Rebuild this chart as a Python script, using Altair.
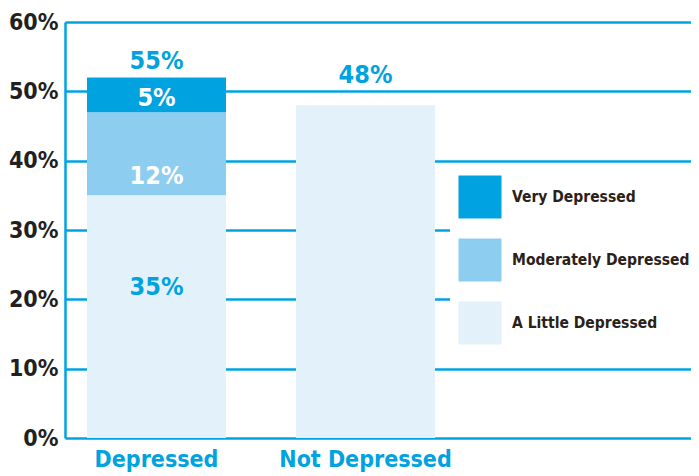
import altair as alt
import pandas as pd

groups = ["Depressed", "Not Depressed"]
spacer = " "   # empty slot on the right where the legend sits
levels = ["Very Depressed", "Moderately Depressed", "A Little Depressed"]
level_colors = ["#00a3e0", "#8dcdf0", "#e3f2fa"]
depressed_values = [5, 12, 35]          # Very, Moderately, A Little
not_depressed_value = 48
total_labels = ["55%", "48%"]
y_ticks = [0, 10, 20, 30, 40, 50, 60]

FONT = "Liberation Sans Narrow, Arial Narrow, DejaVu Sans Condensed, sans-serif"
BLUE = "#00a3e0"

rows = []
cum = 0
for order, (lvl, val) in enumerate(zip(reversed(levels), reversed(depressed_values))):
    rows.append({"group": groups[0], "level": lvl, "value": val, "order": order,
                 "mid": cum + val / 2, "label": f"{val}%"})
    cum += val
stack_df = pd.DataFrame(rows)
nd_df = pd.DataFrame({"group": [groups[1]], "value": [not_depressed_value]})
tot_df = pd.DataFrame({"group": groups, "top": [cum, not_depressed_value], "label": total_labels})

x_enc = alt.X("group:N",
              scale=alt.Scale(domain=groups + [spacer], paddingInner=0.335, paddingOuter=0.165, align=0.319),
              axis=alt.Axis(title=None, labelAngle=0, domain=False, ticks=False, labelColor=BLUE,
                            labelFont=FONT, labelFontSize=23, labelFontWeight="bold", labelPadding=10,
                            labelLimit=300))
y_scale = alt.Scale(domain=[0, 60], nice=False)
y_axis = alt.Axis(title=None, values=y_ticks, labelExpr="datum.value + '%'", domain=True, domainColor=BLUE,
                  domainWidth=2.5, grid=True, gridColor=BLUE, gridWidth=2.5, ticks=False,
                  labelFont=FONT, labelFontSize=23, labelFontWeight="bold", labelColor="#231f20", labelPadding=7)

stacked = alt.Chart(stack_df).mark_bar().encode(
    x=x_enc,
    y=alt.Y("value:Q", stack="zero", scale=y_scale, axis=y_axis),
    color=alt.Color("level:N", scale=alt.Scale(domain=levels, range=level_colors),
                    legend=alt.Legend(title=None, orient="none", legendX=385, legendY=145,
                                      fillColor="white", padding=8, symbolType="square", symbolSize=1850,
                                      symbolStrokeWidth=0, symbolOpacity=1, rowPadding=19, labelOffset=10,
                                      labelFont=FONT, labelFontSize=15.5, labelFontWeight="bold",
                                      labelColor="#2b2116", labelLimit=300)),
    order=alt.Order("order:Q", sort="ascending"),
)

nd_bar = alt.Chart(nd_df).mark_bar(color="#e3f2fa").encode(x="group:N", y="value:Q")

def seg_label(level, color, dy):
    return alt.Chart(stack_df).transform_filter(alt.datum.level == level).mark_text(
        font=FONT, fontSize=25, fontWeight="bold", color=color, baseline="middle", dy=dy
    ).encode(x="group:N", y="mid:Q", text="label:N")

def top_label(group, dy):
    return alt.Chart(tot_df).transform_filter(alt.datum.group == group).mark_text(
        font=FONT, fontSize=25, fontWeight="bold", color=BLUE, baseline="middle", dy=dy
    ).encode(x="group:N", y="top:Q", text="label:N")

chart = alt.layer(
    stacked, nd_bar,
    seg_label("Very Depressed", "white", 3),
    seg_label("Moderately Depressed", "white", 22),
    seg_label("A Little Depressed", BLUE, -30),
    top_label(groups[0], -16),
    top_label(groups[1], -30),
).properties(
    width=626, height=416,
    autosize=alt.AutoSizeParams(type="none"),
    padding={"left": 57, "top": 14, "right": 0, "bottom": 38},
).configure_view(stroke=None).configure(background="white")

chart.save("out.html", embed_options={"renderer": "svg", "actions": False})
